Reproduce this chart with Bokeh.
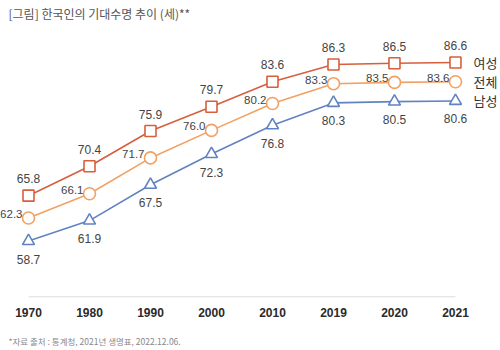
from bokeh.plotting import figure
from bokeh.models import Range1d, Label
from bokeh.core.properties import value
from bokeh.embed import file_html
from bokeh.resources import INLINE

years = ["1970", "1980", "1990", "2000", "2010", "2019", "2020", "2021"]
female = [65.8, 70.4, 75.9, 79.7, 83.6, 86.3, 86.5, 86.6]
total = [62.3, 66.1, 71.7, 76.0, 80.2, 83.3, 83.5, 83.6]
male = [58.7, 61.9, 67.5, 72.3, 76.8, 80.3, 80.5, 80.6]
series_names = ["여성", "전체", "남성"]
title_text = "[그림] 한국인의 기대수명 추이 (세)**"
source_text = "*자료 출처 : 통계청, 2021년 생명표, 2022.12.06."
baseline = 50

idx = list(range(len(years)))

C_F = "#d65f3e"
C_T = "#f2a164"
C_M = "#6283c2"
NUM_FONT = value("Liberation Sans")
KR_FONT = value("Noto Sans CJK KR")

p = figure(width=500, height=350, output_backend="svg", toolbar_location=None,
           x_range=Range1d(-0.459, 7.738), y_range=Range1d(41.6, 96.3),
           x_axis_location=None, y_axis_location=None, min_border=0)
p.outline_line_color = None
p.xgrid.visible = False
p.ygrid.visible = False
p.background_fill_color = "white"
p.border_fill_color = "white"

# baseline axis line
p.segment(x0=[idx[0]], y0=[baseline], x1=[idx[-1]], y1=[baseline], line_color="#dcdcdc", line_width=1.2)
# tick labels
p.text(x=idx, y=[baseline] * len(idx), text=years, text_align="center", text_baseline="middle",
       y_offset=16, text_font=NUM_FONT, text_font_size="12px", text_color="#2a2a2a", text_font_style="bold")

# lines
for ys, c in [(male, C_M), (total, C_T), (female, C_F)]:
    p.line(idx, ys, line_color=c, line_width=1.6)

p.scatter(idx, female, marker="square", size=11, fill_color="white", line_color=C_F, line_width=1.6)
p.scatter(idx, total, marker="circle", size=12, fill_color="white", line_color=C_T, line_width=1.6)
p.scatter(idx, male, marker="triangle", size=12, fill_color="white", line_color=C_M, line_width=1.6)

fmt = lambda v: f"{v:.1f}"
p.text(x=idx, y=female, text=[fmt(v) for v in female], text_align="center", text_baseline="middle",
       y_offset=-17, text_font=NUM_FONT, text_font_size="12px", text_color="#444444")
p.text(x=idx, y=total, text=[fmt(v) for v in total], text_align="right", text_baseline="middle",
       x_offset=-6, y_offset=-4, text_font=NUM_FONT, text_font_size="11.5px", text_color="#444444")
p.text(x=idx, y=male, text=[fmt(v) for v in male], text_align="center", text_baseline="middle",
       y_offset=18, text_font=NUM_FONT, text_font_size="12px", text_color="#444444")

# series names at right end
p.text(x=[idx[-1]] * 3, y=[female[-1], total[-1], male[-1]], text=series_names, text_align="left",
       text_baseline="middle", x_offset=18, text_font=KR_FONT, text_font_size="13px", text_color="#333333")

p.add_layout(Label(x=8, y=337, x_units="screen", y_units="screen", text=title_text,
                   text_font="Noto Sans CJK KR", text_font_size="12px", text_color="#555555",
                   text_baseline="middle"))
p.add_layout(Label(x=8, y=10, x_units="screen", y_units="screen", text=source_text,
                   text_font="Noto Sans CJK KR", text_font_size="8.5px", text_color="#888888",
                   text_baseline="middle"))

open("out.html", "w").write(file_html(p, INLINE))
